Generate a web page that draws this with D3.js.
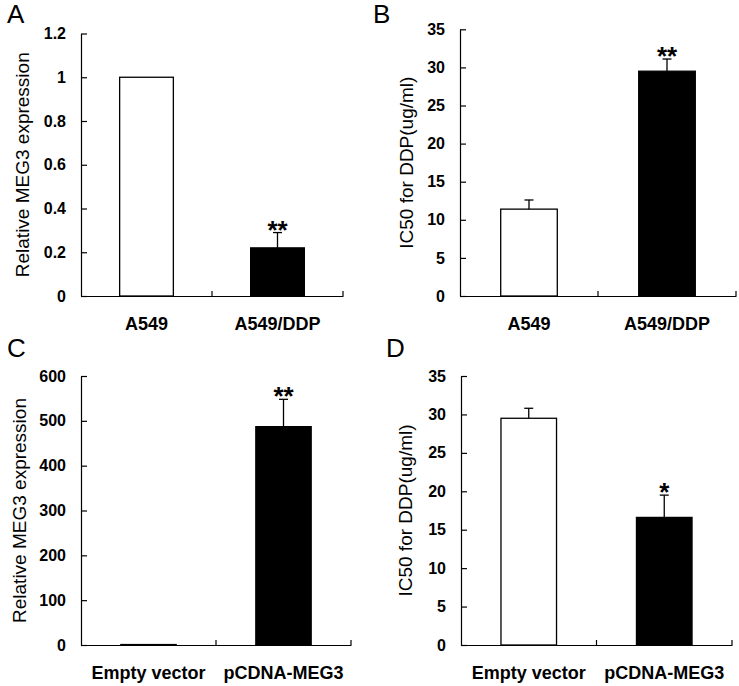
<!DOCTYPE html>
<html>
<head>
<meta charset="utf-8">
<script src="https://cdn.jsdelivr.net/npm/d3@7"></script>
<style>
  html, body { margin: 0; padding: 0; background: #fff; }
  svg { display: block; }
  text { font-family: "Liberation Sans", Arial, sans-serif; fill: #000; }
</style>
</head>
<body>
<svg id="chart" width="739" height="686"></svg>
<script>
// ---------- data ----------
const panelLetters = ["A", "B", "C", "D"];
const categoriesTop = ["A549", "A549/DDP"];
const categoriesBottom = ["Empty vector", "pCDNA-MEG3"];

const valuesA = [1, 0.22];
const errorsA = [0, 0.07];
const signifA = ["", "**"];

const valuesB = [11.4, 29.5];
const errorsB = [1.2, 1.6];
const signifB = ["", "**"];

const valuesC = [1, 487];
const errorsC = [0, 61];
const signifC = ["", "**"];

const valuesD = [29.5, 16.6];
const errorsD = [1.3, 2.9];
const signifD = ["", "*"];

const ticksExpr = [0, 0.2, 0.4, 0.6, 0.8, 1, 1.2];
const tickLabelsExpr = ["0", "0.2", "0.4", "0.6", "0.8", "1", "1.2"];
const ticksIC50 = [0, 5, 10, 15, 20, 25, 30, 35];
const tickLabelsIC50 = ["0", "5", "10", "15", "20", "25", "30", "35"];
const ticksOver = [0, 100, 200, 300, 400, 500, 600];
const tickLabelsOver = ["0", "100", "200", "300", "400", "500", "600"];

const barFills = ["#ffffff", "#000000"];
const titleExpr = "Relative MEG3 expression";
const titleIC50 = "IC50 for DDP(ug/ml)";

// ---------- layout ----------
const panels = [
  { letter: panelLetters[0], cats: categoriesTop, vals: valuesA, errs: errorsA, sig: signifA,
    ticks: ticksExpr, labels: tickLabelsExpr, title: titleExpr,
    x0: 81, x1: 343, yTop: 33.5, yBot: 296, lx: 7, ly: 23, tx: 29 },
  { letter: panelLetters[1], cats: categoriesTop, vals: valuesB, errs: errorsB, sig: signifB,
    ticks: ticksIC50, labels: tickLabelsIC50, title: titleIC50,
    x0: 460, x1: 736, yTop: 29.3, yBot: 296, lx: 373, ly: 23, tx: 413 },
  { letter: panelLetters[2], cats: categoriesBottom, vals: valuesC, errs: errorsC, sig: signifC,
    ticks: ticksOver, labels: tickLabelsOver, title: titleExpr,
    x0: 81, x1: 351, yTop: 376, yBot: 645, lx: 7, ly: 357, tx: 26 },
  { letter: panelLetters[3], cats: categoriesBottom, vals: valuesD, errs: errorsD, sig: signifD,
    ticks: ticksIC50, labels: tickLabelsIC50, title: titleIC50,
    x0: 461, x1: 732, yTop: 376, yBot: 645, lx: 386, ly: 357, tx: 412 }
];

const svg = d3.select("#chart");
svg.append("rect").attr("width", 739).attr("height", 686).attr("fill", "#fff");

panels.forEach(p => {
  const g = svg.append("g");
  const x = d3.scaleBand().domain(p.cats).range([p.x0, p.x1]).paddingInner(0).paddingOuter(0);
  const y = d3.scaleLinear().domain([p.ticks[0], p.ticks[p.ticks.length - 1]]).range([p.yBot, p.yTop]);
  const barFrac = 0.41;
  const bw = x.bandwidth() * barFrac;

  // bars
  g.selectAll("rect.bar").data(p.vals).enter().append("rect")
    .attr("class", "bar")
    .attr("x", (d, i) => x(p.cats[i]) + (x.bandwidth() - bw) / 2)
    .attr("y", d => y(d))
    .attr("width", bw)
    .attr("height", d => y(0) - y(d))
    .attr("fill", (d, i) => barFills[i])
    .attr("stroke", "#000")
    .attr("stroke-width", 1.3);

  // error bars (upper only)
  p.vals.forEach((v, i) => {
    if (!p.errs[i]) return;
    const cx = x(p.cats[i]) + x.bandwidth() / 2;
    g.append("line").attr("x1", cx).attr("x2", cx)
      .attr("y1", y(v)).attr("y2", y(v + p.errs[i]))
      .attr("stroke", "#000").attr("stroke-width", 1.3);
    g.append("line").attr("x1", cx - 4.5).attr("x2", cx + 4.5)
      .attr("y1", y(v + p.errs[i])).attr("y2", y(v + p.errs[i]))
      .attr("stroke", "#000").attr("stroke-width", 1.3);
  });

  // significance marks
  p.vals.forEach((v, i) => {
    if (!p.sig[i]) return;
    const cx = x(p.cats[i]) + x.bandwidth() / 2;
    g.append("text").attr("x", cx).attr("y", y(v + p.errs[i]) + 6)
      .attr("text-anchor", "middle")
      .attr("font-size", 26).attr("font-weight", "bold")
      .text(p.sig[i]);
  });

  // y axis
  const yAxis = d3.axisLeft(y).tickValues(p.ticks)
    .tickFormat((d, i) => p.labels[i])
    .tickSizeInner(-6).tickSizeOuter(0).tickPadding(15);
  const ya = g.append("g").attr("transform", `translate(${p.x0},0)`).call(yAxis);
  ya.selectAll("text").attr("font-size", 16).attr("font-weight", "bold")
    .attr("font-family", "'Liberation Sans', Arial, sans-serif").attr("fill", "#000");
  ya.selectAll("line, path").attr("stroke", "#000").attr("stroke-width", 1.2);

  // x axis (labels)
  const xAxis = d3.axisBottom(x).tickSize(0).tickPadding(21);
  const xa = g.append("g").attr("transform", `translate(0,${p.yBot})`).call(xAxis);
  xa.selectAll("text").attr("font-size", 18).attr("font-weight", "bold")
    .attr("font-family", "'Liberation Sans', Arial, sans-serif").attr("fill", "#000");
  xa.select("path.domain").attr("stroke", "#000").attr("stroke-width", 1.2);

  // category boundary ticks (pointing inward)
  g.selectAll("line.bt").data(p.cats).enter().append("line")
    .attr("class", "bt")
    .attr("x1", d => x(d) + x.bandwidth()).attr("x2", d => x(d) + x.bandwidth())
    .attr("y1", p.yBot).attr("y2", p.yBot - 5)
    .attr("stroke", "#000").attr("stroke-width", 1.2);

  // y title
  g.append("text")
    .attr("transform", `translate(${p.tx},${(p.yTop + p.yBot) / 2}) rotate(-90)`)
    .attr("text-anchor", "middle")
    .attr("font-size", 19)
    .text(p.title);

  // panel letter
  g.append("text").attr("x", p.lx).attr("y", p.ly)
    .attr("font-size", 26)
    .text(p.letter);
});
</script>
</body>
</html>
